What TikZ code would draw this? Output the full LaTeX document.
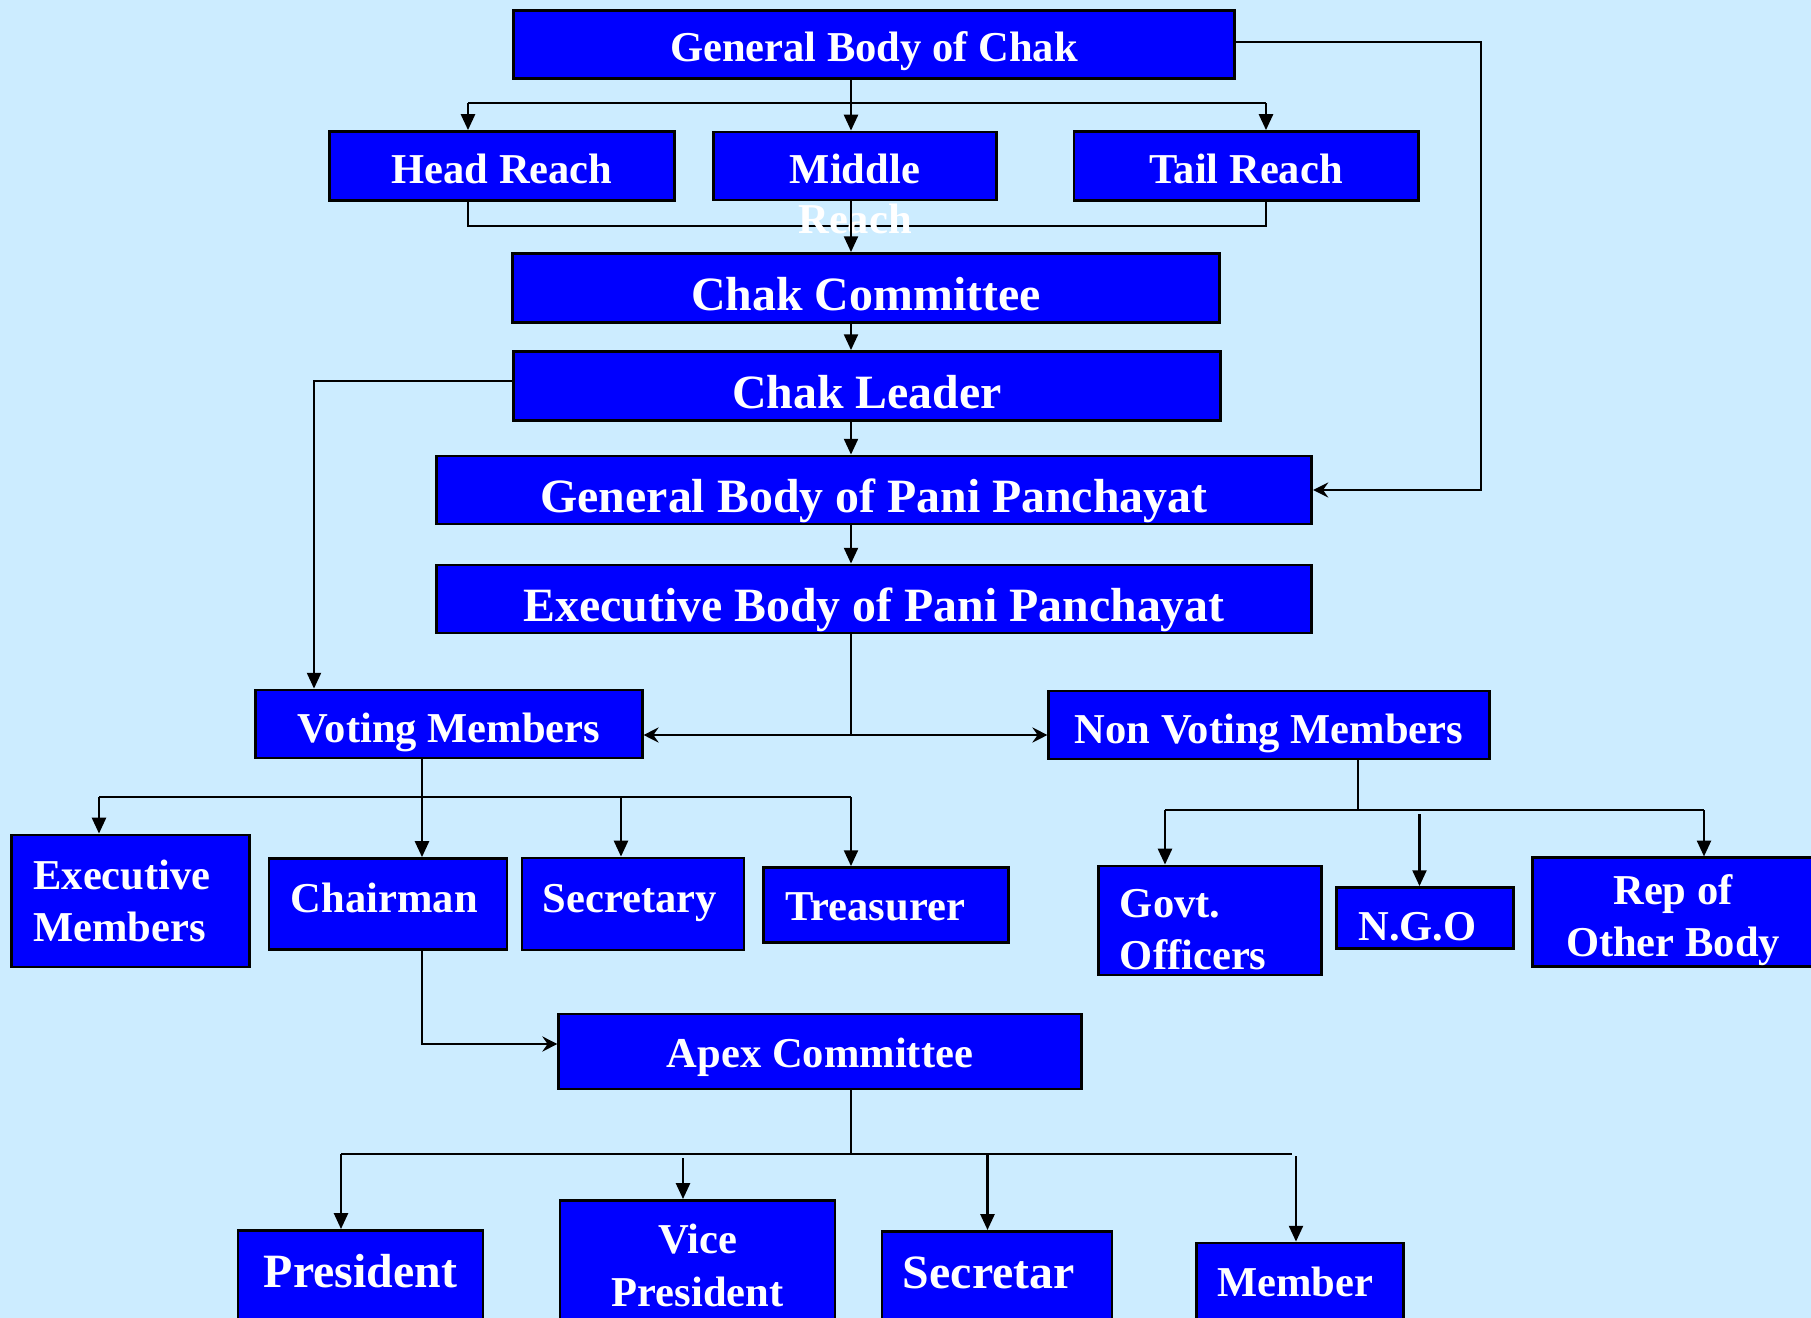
\documentclass[tikz,border=0pt]{standalone}
\usepackage{fontspec}
\setmainfont{Liberation Serif}
\usepackage{xcolor}
\usepackage{tikz}
\usetikzlibrary{arrows.meta}

\definecolor{bgblue}{RGB}{204,236,255}
\definecolor{boxblue}{RGB}{0,0,255}

\begin{document}
\begin{tikzpicture}
            [x=0.01cm, y=-0.01cm,
             box/.style = {draw=black, line width=0.8pt, fill=boxblue, text=white, inner sep=0pt,
                           font=\bfseries\fontsize{12.1}{14.8}\selectfont, text height=9.7pt, text depth=0pt},
             big/.style = {font=\bfseries\fontsize{13.6}{16.3}\selectfont, text height=12.8pt},
             two/.style = {align=left, text height=, text depth=},
             foot/.style = {anchor=north, text height=9.4pt, text depth=2.9pt},
             link/.style = {line width=0.6pt},
             arr/.style = {link, -{Triangle[length=4.5pt,width=4pt]}},
             harr/.style = {link, -{Stealth[length=4.3pt,width=4.3pt,inset=1.5pt]}}]

            \useasboundingbox (0,0) rectangle (1811,1318);
            \fill[bgblue] (0,0) rectangle (1811,1318);
            \clip (0,0) rectangle (1811,1318);

            \node[box, minimum width=7.21cm, minimum height=0.68cm] (gbc) at (874,44.5) {General Body of Chak};
            \node[box, minimum width=3.44cm, minimum height=0.69cm] (head) at (502,166) {Head Reach};
            \node[box, minimum width=2.83cm, minimum height=0.68cm] (mid) at (855,166) {Middle};
            \node[box, minimum width=3.44cm, minimum height=0.69cm] (tail) at (1246,166) {Tail Reach};
            \node[box, big, minimum width=7.06cm, minimum height=0.69cm] (cc) at (866,288) {Chak Committee};
            \node[box, big, minimum width=7.06cm, minimum height=0.69cm] (cl) at (867,386) {Chak Leader};
            \node[box, big, minimum width=8.75cm, minimum height=0.68cm] (gbpp) at (874,490) {General Body of Pani Panchayat};
            \node[box, big, minimum width=8.75cm, minimum height=0.68cm] (ebpp) at (874,599) {Executive Body of Pani Panchayat};
            \node[box, text height=10.3pt, minimum width=3.86cm, minimum height=0.68cm] (vm) at (449,724) {Voting Members};
            \node[box, text height=10.3pt, minimum width=4.40cm, minimum height=0.68cm] (nvm) at (1269,725) {Non Voting Members};

            \node[box, two, text width=1.94cm, inner xsep=0.22cm, minimum height=1.32cm] (exm) at (130.5,901) {Executive\\Members};
            \node[box, text height=4.6pt, align=left, text width=1.94cm, inner xsep=0.22cm, minimum height=0.91cm] (chair) at (388,904) {Chairman};
            \node[box, text height=4.6pt, align=left, text width=1.80cm, inner xsep=0.21cm, minimum height=0.92cm] (sec) at (633,904) {Secretary};
            \node[box, text height=8.6pt, align=left, text width=2.01cm, inner xsep=0.22cm, minimum height=0.75cm] (treas) at (886,905) {Treasurer};
            \node[box, two, text width=1.80cm, inner xsep=0.215cm, minimum height=1.09cm] (govt) at (1210,920.5) {\rule{0pt}{13.1pt}Govt.\\Officers};
            \node[box, text height=12.6pt, align=left, text width=1.33cm, inner xsep=0.22cm, minimum height=0.61cm] (ngo) at (1425,918) {N.G.O};
            \node[box, two, align=center, anchor=west, minimum width=2.81cm, minimum height=1.08cm] (rep) at (1531,912) {\rule{0pt}{13.4pt}Rep of\\Other Body};

            \node[box, text height=9.1pt, minimum width=5.22cm, minimum height=0.75cm] (apex) at (820,1051.5) {Apex Committee};
            \node[box, big, foot, minimum width=2.45cm, inner ysep=0.24cm] (pres) at (360.5,1229) {President};
            \node[box, two, align=center, anchor=north, minimum width=2.75cm, inner ysep=0.24cm] (vp) at (697.5,1199) {Vice\\President};
            \node[box, big, foot, align=left, text width=1.88cm, inner xsep=0.21cm, inner ysep=0.245cm] (secr) at (997,1230) {Secretar};
            \node[box, foot, align=left, text width=1.65cm, inner xsep=0.21cm, inner ysep=0.20cm] (mem) at (1300,1241.6) {Member};

            \coordinate (b1) at (851,103);
            \coordinate (b1l) at (468,103);
            \coordinate (b1r) at (1266,103);
            \coordinate (b2l) at (468,226);
            \coordinate (b2r) at (1266,226);
            \coordinate (rt) at (1481,42);
            \coordinate (lt) at (314,381);
            \coordinate (b3) at (851,735);
            \coordinate (b4) at (422,797);
            \coordinate (b4l) at (99,797);
            \coordinate (b4s) at (621,797);
            \coordinate (b4r) at (851,797);
            \coordinate (b5) at (1358,810);
            \coordinate (b5l) at (1165,810);
            \coordinate (b5n) at (1419.5,814);
            \coordinate (b5r) at (1704,810);
            \coordinate (ax) at (422,1044);
            \coordinate (b6) at (851,1154);
            \coordinate (b6l) at (341,1154);
            \coordinate (b6v) at (683,1158);
            \coordinate (b6s) at (987.5,1154);
            \coordinate (b6m) at (1296,1156);
            \coordinate (b6r) at (1292,1154);

            \draw[arr] (gbc.south -| b1) -- (mid.north -| b1);
            \draw[link] (b1l) -- (b1r);
            \draw[arr] (b1l) -- (head.north -| b1l);
            \draw[arr] (b1r) -- (tail.north -| b1r);
            \draw[link] (head.south -| b2l) -- (b2l) -- (b2r) -- (tail.south -| b2r);
            \node[box, draw=none, fill=none] (midr) at (855,216.5) {Reach};
            \draw[arr] (mid.south -| b1) -- (cc.north -| b1);
            \draw[arr] (cc.south -| b1) -- (cl.north -| b1);
            \draw[arr] (cl.south -| b1) -- (gbpp.north -| b1);
            \draw[arr] (gbpp.south -| b1) -- (ebpp.north -| b1);
            \draw[harr] (gbc.east |- rt) -- (rt) |- (gbpp.east);

            \draw[arr] (cl.west |- lt) -- (lt) -- (vm.north -| lt);
            \draw[link] (ebpp.south -| b3) -- (b3);
            \draw[harr] (b3) -- (vm.east |- b3);
            \draw[harr] (b3) -- (nvm.west |- b3);

            \draw[arr] (vm.south -| b4) -- (chair.north -| b4);
            \draw[link] (b4l) -- (b4r);
            \draw[arr] (b4l) -- (exm.north -| b4l);
            \draw[arr] (b4s) -- (sec.north -| b4s);
            \draw[arr] (b4r) -- (treas.north -| b4r);

            \draw[link] (nvm.south -| b5) -- (b5);
            \draw[link] (b5l) -- (b5r);
            \draw[arr] (b5l) -- (govt.north -| b5l);
            \draw[arr] (b5n) -- (ngo.north -| b5n);
            \draw[arr] (b5r) -- (rep.north -| b5r);

            \draw[harr] (chair.south -| ax) -- (ax) -- (apex.west |- ax);
            \draw[link] (apex.south -| b6) -- (b6);
            \draw[link] (b6l) -- (b6r);
            \draw[arr] (b6l) -- (pres.north -| b6l);
            \draw[arr] (b6v) -- (vp.north -| b6v);
            \draw[arr] (b6s) -- (secr.north -| b6s);
            \draw[arr] (b6m) -- (mem.north -| b6m);

        \end{tikzpicture}
\end{document}
